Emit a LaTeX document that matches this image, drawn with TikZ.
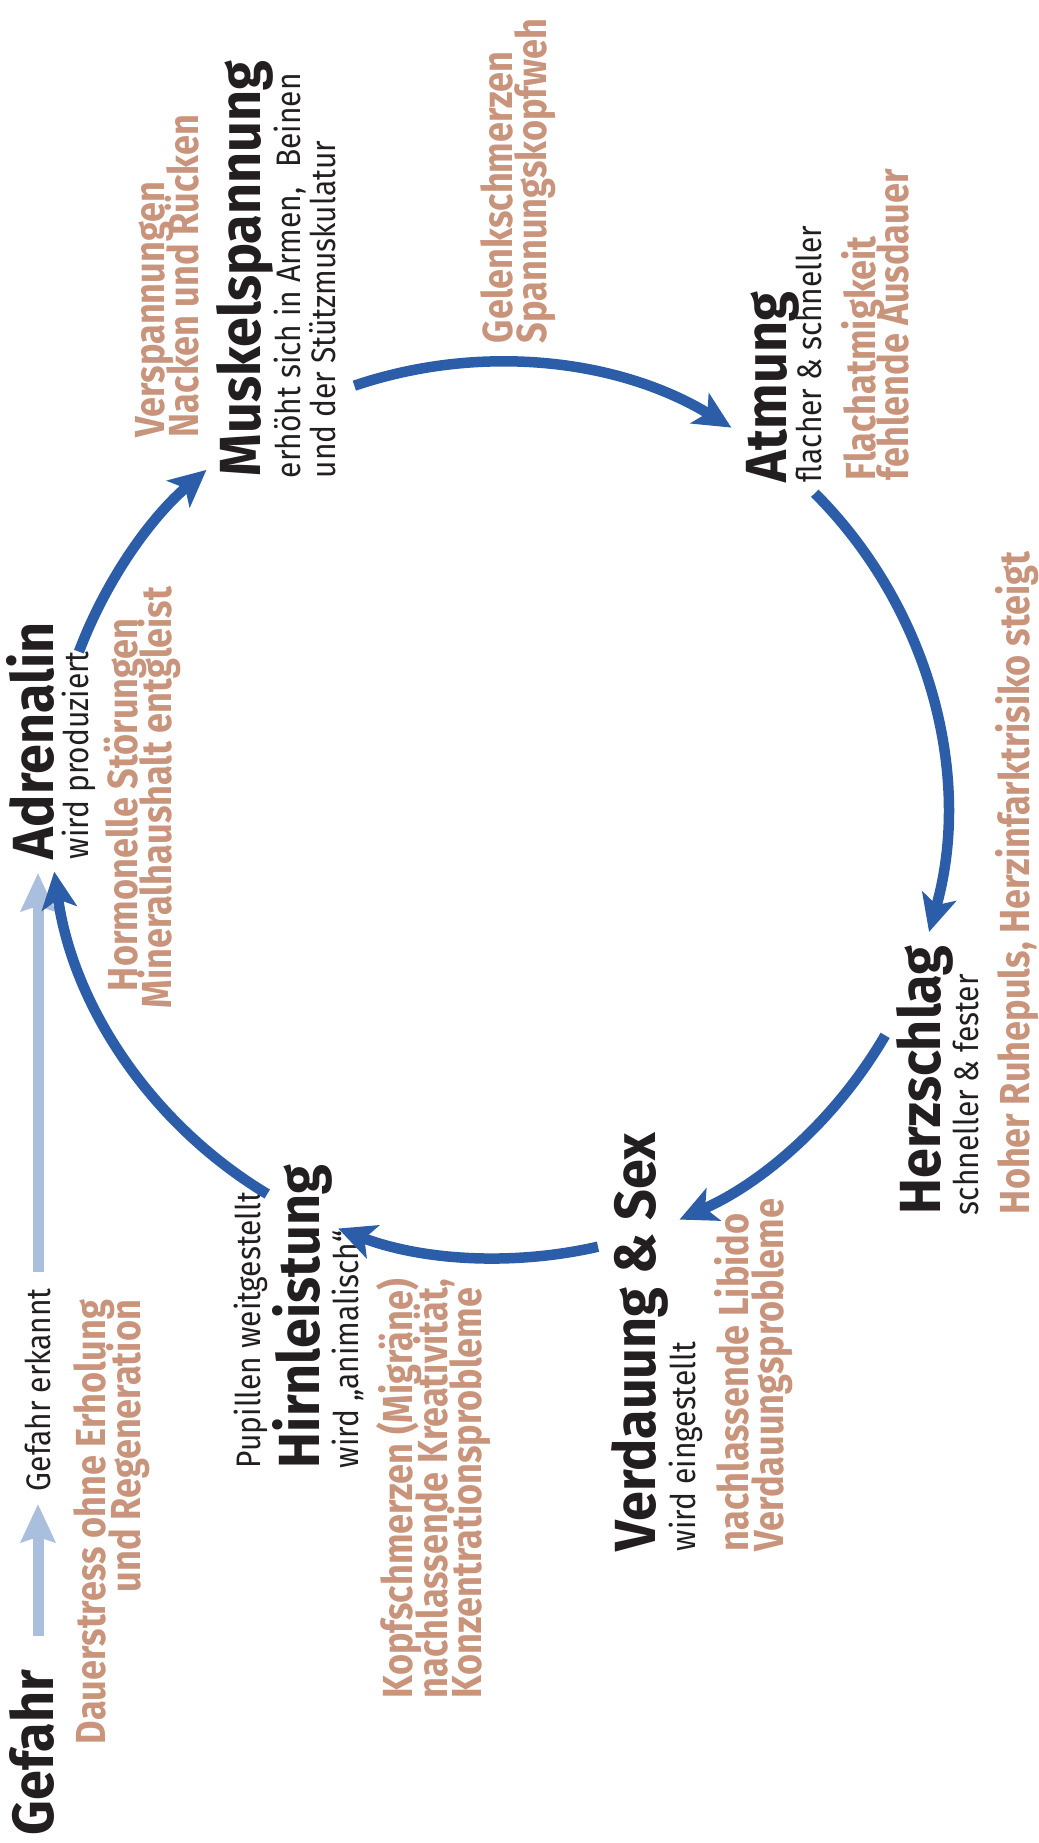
\documentclass[tikz,border=0pt]{standalone}
\usepackage{fontspec}
\setmainfont{Fira Sans}
\newfontfamily\headfont[FakeStretch=0.93]{Fira Sans}
\newfontfamily\subfont[FakeStretch=0.88]{Fira Sans}
\newfontfamily\symfont[FakeStretch=0.86]{Fira Sans}
\usetikzlibrary{arrows.meta}
\definecolor{ink}{RGB}{35,31,32}
\definecolor{cycblue}{RGB}{44,93,168}
\definecolor{trigblue}{RGB}{170,191,222}
\definecolor{salmon}{RGB}{201,148,124}
\begin{document}
\begin{tikzpicture}[x=1bp,y=1bp,
  lbl/.style={rotate=90, inner sep=0pt, outer sep=0pt, anchor=base west},
  head/.style={lbl, text=ink, font=\headfont\bfseries\fontsize{58bp}{60bp}\selectfont},
  sub/.style={lbl, text=ink, font=\subfont\fontsize{34bp}{36bp}\selectfont},
  sym/.style={lbl, text=salmon, font=\symfont\bfseries\fontsize{42bp}{44bp}\selectfont},
  cyc/.style={draw=cycblue, line width=10.5bp, -{Stealth[length=37bp,width=35bp,inset=9bp]}},
  trig/.style={draw=trigblue, line width=11bp, -{Stealth[length=38bp,width=34bp,inset=5bp]}}
]
\useasboundingbox (0,0) rectangle (1038,-1843);

% headings
\node[head] (gefahr) at (53,-1835) {Gefahr};
\node[head] (hirn)   at (319,-1468) {Hirnleistung};
\node[head] (adr)    at (53,-859) {Adrenalin};
\node[head] (muskel) at (260,-476) {Muskelspannung};
\node[head] (atmung) at (786,-482) {Atmung};
\node[head] (herz)   at (940,-1214) {Herzschlag};
\node[head] (verd)   at (655,-1551) {Verdauung \& Sex};

% black sub-labels
\node[sub] (gefahrerk)  at (50,-1491) {Gefahr erkannt};
\node[sub] (pupillen)   at (260,-1468) {Pupillen weitgestellt};
\node[sub] (hirnsub)    at (358,-1468) {wird „animalisch“};
\node[sub] (adrsub)     at (88,-859) {wird produziert};
\node[sub] (muskelsub1) at (300,-478) {erhöht sich in Armen,\hspace{0.35em} Beinen};
\node[sub] (muskelsub2) at (335,-478) {und der Stützmuskulatur};
\node[sub] (atmsub)     at (821,-482) {flacher \& schneller};
\node[sub] (herzsub)    at (978,-1215) {schneller \& fester};
\node[sub] (verdsub)    at (695,-1551) {wird eingestellt};

% symptoms
\node[sym] (dauer1) at (105,-1744) {Dauerstress ohne Erholung};
\node[sym, anchor=base east] (dauer2) at (140,-1300) {und Regeneration};
\node[sym] (kopf1) at (412,-1698) {Kopfschmerzen (Migräne)};
\node[sym] (kopf2) at (447,-1698) {nachlassende Kreativität,};
\node[sym] (kopf3) at (481,-1698) {Konzentrationsprobleme};
\node[sym] (horm1) at (137,-991) {Hormonelle Störungen};
\node[sym] (horm2) at (171,-1008) {Mineralhaushalt entgleist};
\node[sym] (versp1) at (164,-437) {Verspannungen};
\node[sym] (versp2) at (198,-437) {Nacken und Rücken};
\node[sym] (gelenk1) at (512,-343) {Gelenkschmerzen};
\node[sym] (gelenk2) at (546,-343) {Spannungskopfweh};
\node[sym] (flach1) at (875,-480) {Flachatmigkeit};
\node[sym] (flach2) at (908,-480) {fehlende Ausdauer};
\node[sym] (hoher) at (1029,-1214) {Hoher Ruhepuls, Herzinfarktrisiko steigt};
\node[sym] (libido1) at (748,-1551) {nachlassende Libido};
\node[sym] (libido2) at (783,-1551) {Verdauungsprobleme};

% trigger arrows
\coordinate (t1s) at (38,-1636);
\coordinate (t1e) at (38,-1504);
\coordinate (t2s) at (38,-1272);
\coordinate (t2e) at (38,-873);
\draw[trig] (t1s) -- (t1e);
\draw[trig] (t2s) -- (t2e);

% stress cycle
\coordinate (cc) at (498,-810);
\draw[cyc] ([shift={(159.3:448)}]cc) arc[start angle=159.3, end angle=130.6, radius=448];
\draw[cyc] ([shift={(108.7:448)}]cc) arc[start angle=108.7, end angle=58.6, radius=448];
\draw[cyc] ([shift={(45:448)}]cc) arc[start angle=45, end angle=-15.8, radius=448];
\draw[cyc] ([shift={(-30.2:448)}]cc) arc[start angle=-30.2, end angle=-66.1, radius=448];
\draw[cyc] ([shift={(-77.1:448)}]cc) arc[start angle=-77.1, end angle=-110.9, radius=448];
\draw[cyc] ([shift={(-121:448)}]cc) arc[start angle=-121, end angle=-172.1, radius=448];
\end{tikzpicture}
\end{document}
